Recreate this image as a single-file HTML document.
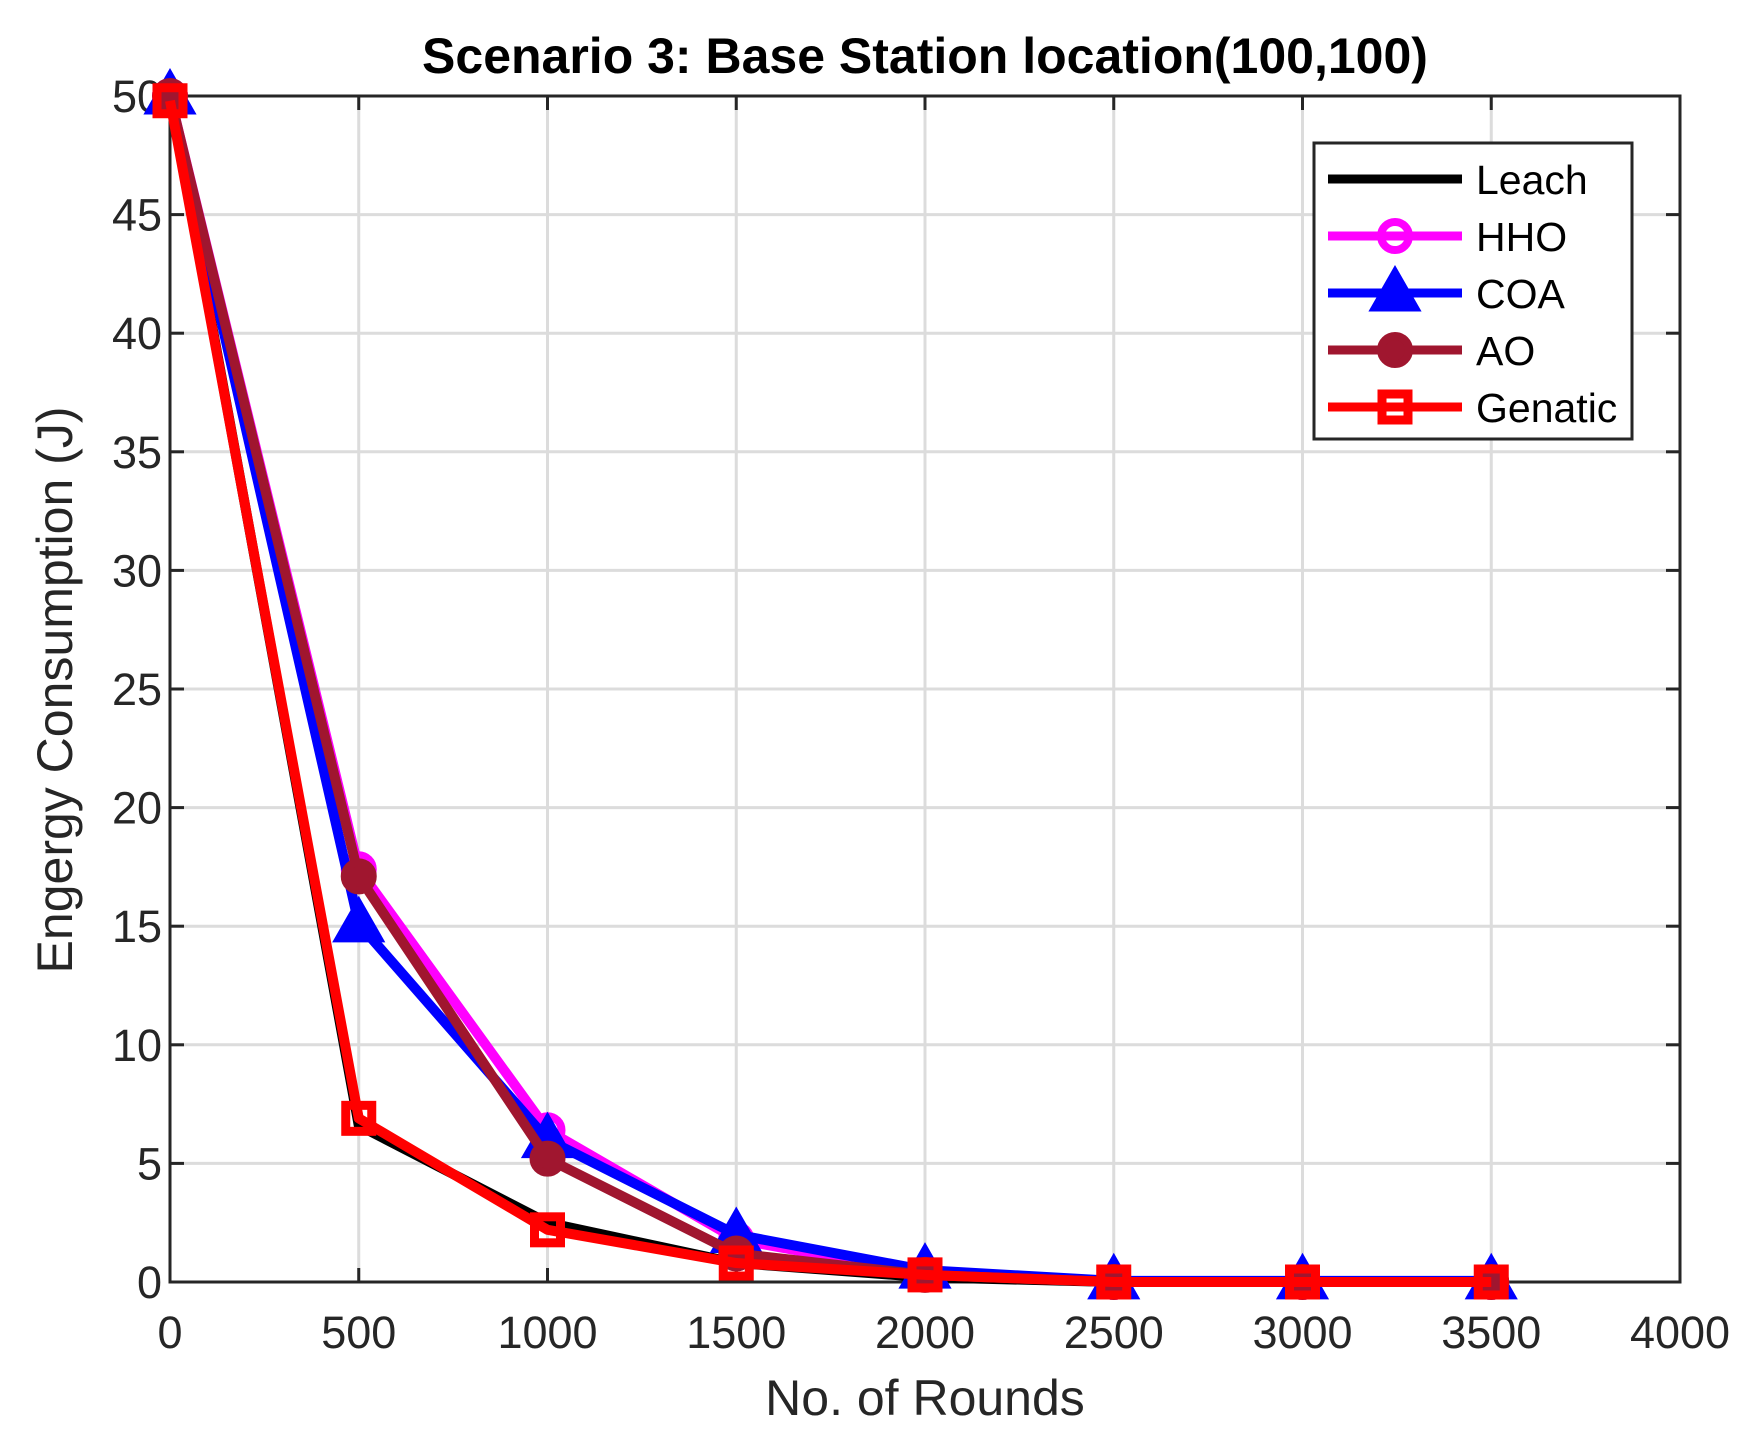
<!DOCTYPE html>
<html><head><meta charset="utf-8"><style>
html,body{margin:0;padding:0;background:#fff;}
svg text{font-family:"Liberation Sans",Arial,sans-serif;}
</style></head><body>
<svg id="chart" width="1753" height="1445" viewBox="0 0 1753 1445" xmlns="http://www.w3.org/2000/svg">
<rect x="0" y="0" width="1753" height="1445" fill="#fff"/>
<g id="grid"></g>
<g id="axes"></g>
<g id="series"></g>
<text x="925" y="73" text-anchor="middle" font-size="50" font-weight="bold" fill="#000">Scenario 3: Base Station location(100,100)</text>
<text x="925" y="1415" text-anchor="middle" font-size="50" fill="#262626">No. of Rounds</text>
<text transform="translate(72,690) rotate(-90)" text-anchor="middle" font-size="50" fill="#262626">Engergy Consumption (J)</text>
<g id="legend"></g>
</svg>
<script>
const xValues = [0, 500, 1000, 1500, 2000, 2500, 3000, 3500];
const leach = [50, 6.6, 2.5, 0.8, 0.2, 0, 0, 0];
const hho = [50, 17.4, 6.4, 1.8, 0.35, 0, 0, 0];
const coa = [50, 15.1, 6.0, 2.0, 0.5, 0.05, 0.05, 0.05];
const ao = [50, 17.1, 5.2, 1.2, 0.3, 0, 0, 0];
const genatic = [49.8, 6.9, 2.2, 0.8, 0.3, 0, 0, 0];
const xTicks = [0, 500, 1000, 1500, 2000, 2500, 3000, 3500, 4000];
const yTicks = [0, 5, 10, 15, 20, 25, 30, 35, 40, 45, 50];
const seriesNames = ["Leach", "HHO", "COA", "AO", "Genatic"];

const L = 170, R = 1680, T = 96, B = 1282;
const NS = "http://www.w3.org/2000/svg";
function xs(v){ return L + (v - 0) / 4000 * (R - L); }
function ys(v){ return B - (v - 0) / 50 * (B - T); }
function mk(tag, attrs, parent){
  const e = document.createElementNS(NS, tag);
  for (const k in attrs) e.setAttribute(k, attrs[k]);
  parent.appendChild(e);
  return e;
}
const grid = document.getElementById('grid');
const axes = document.getElementById('axes');
xTicks.forEach(t => {
  const g = mk('line', {x1: xs(t), x2: xs(t), y1: T, y2: B, stroke: '#dcdcdc', 'stroke-width': 3}, grid);
  
  
  mk('line', {x1: xs(t), x2: xs(t), y1: B, y2: B - 14, stroke: '#262626', 'stroke-width': 3}, axes);
  mk('line', {x1: xs(t), x2: xs(t), y1: T, y2: T + 14, stroke: '#262626', 'stroke-width': 3}, axes);
  const lb = mk('text', {x: xs(t), y: B + 66, 'text-anchor': 'middle', 'font-size': 45, fill: '#262626'}, axes);
  lb.textContent = t;
  
  
});
yTicks.forEach(t => {
  const g = mk('line', {x1: L, x2: R, y1: ys(t), y2: ys(t), stroke: '#dcdcdc', 'stroke-width': 3}, grid);
  
  
  mk('line', {x1: L, x2: L + 14, y1: ys(t), y2: ys(t), stroke: '#262626', 'stroke-width': 3}, axes);
  mk('line', {x1: R, x2: R - 14, y1: ys(t), y2: ys(t), stroke: '#262626', 'stroke-width': 3}, axes);
  const lb = mk('text', {x: L - 8, y: ys(t) + 16, 'text-anchor': 'end', 'font-size': 45, fill: '#262626'}, axes);
  lb.textContent = t;
  
  
});
const frame = mk('rect', {x: L, y: T, width: R - L, height: B - T, fill: 'none', stroke: '#262626', 'stroke-width': 3}, axes);



function marker(type, cx, cy, color, parent){
  let m;
  if (type === 'circle') m = mk('circle', {cx: cx, cy: cy, r: 14, fill: color === '#a0162f' ? color : 'none', stroke: color, 'stroke-width': 8}, parent);
  else if (type === 'tri') m = mk('polygon', {points: `${cx},${cy-25} ${cx-24},${cy+17} ${cx+24},${cy+17}`, fill: color, stroke: color, 'stroke-width': 3}, parent);
  else if (type === 'square') m = mk('rect', {x: cx - 13, y: cy - 13, width: 26, height: 26, fill: 'none', stroke: color, 'stroke-width': 9}, parent);
  return m;
}
const seriesData = [leach, hho, coa, ao, genatic];
const colors = ['#000000', '#ff00ff', '#0000ff', '#a0162f', '#ff0000'];
const markers = [null, 'circle', 'tri', 'circle', 'square'];
const sg = document.getElementById('series');
const lg = document.getElementById('legend');
const box = mk('rect', {x: 1314, y: 143, width: 318, height: 296, fill: '#fff', stroke: '#262626', 'stroke-width': 3}, lg);


seriesData.forEach((d, i) => {
  const g = mk('g', {}, sg);
  
  
  const pts = d.map((v, j) => xs(xValues[j]) + ',' + ys(v)).join(' ');
  const pl = mk('polyline', {points: pts, fill: 'none', stroke: colors[i], 'stroke-width': 10, 'stroke-linejoin': 'round'}, g);
  
  
  if (markers[i]) d.forEach((v, j) => {
    const m = marker(markers[i], xs(xValues[j]), ys(v), colors[i], g);
    
    
  });
  const ly = 179 + i * 57;
  const le = mk('g', {}, lg);
  
  
  mk('line', {x1: 1328, x2: 1462, y1: ly, y2: ly, stroke: colors[i], 'stroke-width': 9}, le);
  if (markers[i]) marker(markers[i], 1395, ly, colors[i], le);
  const t = mk('text', {x: 1476, y: ly + 15, 'font-size': 41, fill: '#000'}, le);
  t.textContent = seriesNames[i];
});
</script>
</body></html>
